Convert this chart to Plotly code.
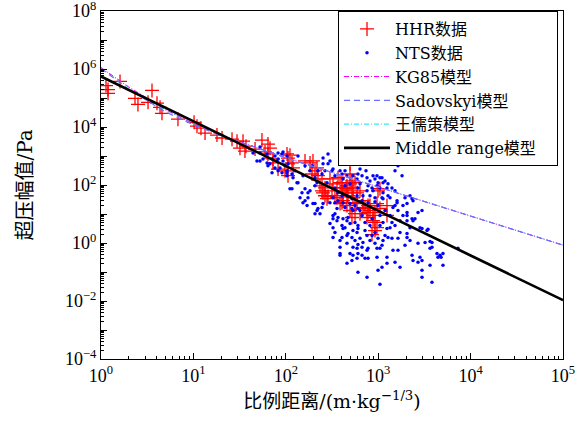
import plotly.graph_objects as go

# ---------------- data (log10 values) ----------------
hhr_log_z = [0.054, 0.076, 0.076, 0.206, 0.552, 0.368, 0.400, 0.509, 0.606, 0.639,
             0.660, 0.833, 1.007, 1.039, 1.082, 1.126, 1.255, 1.310, 1.418, 1.472,
             1.537, 1.504, 1.558, 1.569, 1.667, 1.742, 1.807, 1.829, 1.775, 1.807,
             1.861, 1.861, 1.916, 1.991, 2.013, 2.024, 2.024, 2.024, 2.045, 2.067,
             2.078,
             2.208, 2.262, 2.294, 2.338, 2.284, 2.316, 2.348, 2.392, 2.370, 2.424,
             2.392, 2.403, 2.424, 2.446, 2.457, 2.478, 2.511, 2.500, 2.532, 2.554,
             2.565, 2.587, 2.608, 2.608, 2.619, 2.662, 2.641, 2.662, 2.673, 2.695,
             2.695, 2.716, 2.695, 2.749, 2.727, 2.716, 2.727, 2.749, 2.619, 2.587,
             2.554, 2.608, 2.662, 2.695, 2.749, 2.716, 2.771, 2.771, 2.803,
             2.835, 2.835, 2.857, 2.890, 2.890, 2.911, 2.944, 2.965, 2.879, 2.944,
             2.965, 2.987, 2.965, 2.933, 2.998, 3.019, 2.987, 3.019, 3.095, 3.095,
             2.911, 2.803]
hhr_log_p = [5.43, 5.29, 5.16, 5.57, 5.26, 4.99, 4.78, 4.85, 4.82, 4.68,
             4.47, 4.27, 4.16, 4.03, 3.96, 3.79, 3.72, 3.62, 3.58, 3.51,
             3.51, 3.27, 3.17, 3.34, 3.24, 3.55, 3.41, 3.27, 3.14, 3.07,
             2.90, 2.76, 2.55, 2.49, 3.07, 2.93, 2.73, 2.32, 3.03, 2.76,
             2.59,
             2.83, 2.76, 2.83, 2.59, 2.38, 2.49, 2.32, 2.21, 1.97, 1.90,
             1.80, 1.73, 1.63, 1.53, 1.60, 2.21, 2.04, 1.80, 1.63, 1.90,
             2.25, 2.08, 1.90, 2.08, 1.73, 1.97, 1.80, 1.87, 1.63, 2.73,
             2.38, 2.14, 2.04, 2.08, 1.90, 1.73, 1.56, 1.36, 1.46, 1.36,
             1.56, 1.39, 1.29, 1.12, 1.01, 0.88, 1.39, 1.73, 1.80,
             1.46, 1.19, 1.22, 1.29, 1.05, 1.12, 0.95, 1.05, 0.88, 0.77,
             0.71, 0.53, 0.43, 0.29, 1.80, 1.87, 1.36, 1.19, 1.29, 0.95,
             1.29, 1.01]

nts_log_z = [
    1.645, 1.721, 1.688, 1.721, 1.753, 1.797, 1.807, 1.883, 1.916, 1.959,
    1.883, 1.916, 1.959, 1.991, 2.024, 1.970, 1.851, 2.013, 1.721, 1.829,
    1.937, 1.916, 1.970, 2.013, 1.797, 1.851, 1.905, 2.013, 2.045,
    2.132, 2.013, 2.067, 2.100, 2.121, 2.186, 2.208, 2.284, 2.262, 2.403,
    2.457, 2.500, 2.511, 2.532, 2.587, 2.608, 2.641, 2.619, 2.662, 2.695,
    2.727, 2.771, 2.781, 2.532, 2.446, 2.316, 2.316, 2.208, 2.262, 2.067,
    2.154, 2.240, 2.565, 2.608, 2.511, 2.662, 2.716, 2.771, 2.348, 2.424,
    2.392, 2.457, 2.478, 2.403, 2.078, 2.132, 2.175, 2.240, 2.338,
    2.208, 2.230, 2.186, 2.316, 2.348, 2.392, 2.403, 2.316, 2.532, 2.565,
    2.619, 2.641, 2.695, 2.716, 2.749, 2.727, 2.781, 2.532, 2.565, 2.619,
    2.662, 2.673, 2.478, 2.511, 2.554, 2.608, 2.641, 2.695, 2.749, 2.781,
    2.727, 2.771, 2.619, 2.662, 2.673, 2.532, 2.511, 2.608, 2.716, 2.749,
    2.727, 2.771, 2.587, 2.695, 2.727, 2.716, 2.771, 2.781, 2.554, 2.511,
    2.511, 2.587, 2.662, 2.587, 2.662, 2.587, 2.370, 2.338, 2.294, 2.478,
    2.781, 2.825, 2.879, 2.911, 2.944, 2.965, 2.998, 3.041, 3.074, 3.106,
    3.149, 3.182, 3.095, 2.933, 2.879, 2.835, 2.965, 3.041, 3.106, 3.258,
    3.290, 3.344, 2.803, 2.890, 3.052, 2.987, 2.944, 3.019, 3.052, 2.987,
    3.019, 3.128, 3.204, 3.160, 3.268, 3.312, 3.377, 3.312, 3.452, 3.528,
    3.344, 3.474, 3.312, 3.377, 2.803, 2.868, 3.214, 3.290, 3.182,
    3.214, 3.312, 3.366, 3.398, 3.431, 3.474, 3.236, 3.312, 3.312, 3.431,
    3.507, 3.582, 3.582, 3.636, 3.669, 3.701, 3.561, 3.377, 3.452, 3.431,
    3.474, 3.474, 3.582, 3.214, 3.182, 3.095, 3.041, 2.998, 2.879, 2.987,
    2.857, 2.825, 2.781, 2.987, 3.019, 3.041, 3.052, 3.106, 3.149, 3.214,
    2.781, 2.825, 2.890, 2.803, 2.879, 2.933, 2.965, 2.857, 2.781, 3.095,
    3.149, 3.128, 3.182, 3.204, 3.052, 2.965, 2.890, 3.366, 2.803, 2.825,
    2.857, 2.911, 3.019, 3.052, 3.074, 2.998, 2.911, 2.835, 2.965, 2.879,
    2.890, 3.095, 3.236, 3.366, 3.474, 3.647, 3.701,
    3.539, 3.561, 3.561, 3.680, 3.864, 3.019,
    2.641, 2.825, 2.911, 2.998, 3.074, 2.933, 3.019, 3.128, 3.182, 3.236,
    3.268, 3.160, 3.290, 3.344]
nts_log_p = [
    3.10, 3.10, 2.83, 2.83, 2.90, 2.76, 2.66, 3.00, 2.90, 3.07,
    2.59, 2.49, 2.42, 2.66, 2.73, 2.83, 2.42, 2.32, 3.31, 2.73,
    2.59, 3.10, 3.14, 3.00, 3.07, 2.90, 2.83, 2.49, 1.87,
    3.00, 2.42, 2.38, 2.49, 2.08, 2.32, 2.66, 2.66, 2.49, 2.93,
    2.73, 2.49, 2.55, 2.32, 2.49, 2.38, 2.49, 2.21, 2.32, 2.04,
    2.32, 2.21, 1.90, 1.90, 2.08, 2.25, 1.97, 1.87, 1.80, 1.87,
    1.56, 1.56, 1.73, 1.63, 1.56, 1.63, 1.53, 1.63, 2.49, 2.49,
    2.38, 3.07, 2.83, 2.73, 2.25, 2.08, 1.73, 1.73, 2.08,
    1.46, 1.29, 1.39, 1.36, 1.19, 1.22, 1.36, 1.01, 1.39, 1.46,
    1.39, 1.22, 1.36, 1.19, 1.29, 1.12, 1.19, 1.01, 0.88, 0.84,
    0.77, 0.88, 0.67, 0.84, 0.77, 0.60, 0.53, 0.67, 0.71, 0.60,
    0.43, 0.36, 0.50, 0.26, 0.33, 0.36, 0.19, 0.19, 0.19, 0.09,
    -0.15, -0.18, -0.36, -0.36, -0.42, -0.60, -0.53, -1.01, 1.19, 0.95,
    0.53, 0.09, -0.01, -0.15, -0.70, -0.42, 1.01, 1.12, 1.36, 1.39,
    2.38, 2.32, 2.25, 2.14, 2.32, 2.21, 2.08, 2.25, 2.14, 2.04,
    1.90, 1.80, 1.90, 1.90, 1.80, 1.63, 1.56, 1.56, 1.63, 2.32,
    1.56, 1.63, 2.04, 1.97, 1.73, 1.97, 1.80, 1.90, 2.08, 2.32,
    2.25, 1.56, 1.39, 1.22, 0.95, 1.05, 0.77, 0.77, 0.53, 0.43,
    0.53, 1.12, 1.36, 1.46, 2.55, 2.49, 2.66, 2.73, 2.49,
    1.12, 0.95, 0.84, 0.84, 1.05, 0.50, 0.36, 0.33, 0.19, -0.01,
    0.02, 0.02, -0.15, -0.36, -0.42, -0.77, -0.77, -0.60, -0.49, -0.66,
    -0.94, -1.18, -1.35, -0.25, -0.66, -0.70, -0.84, -0.94, -1.18, -0.49,
    -0.53, -0.42, -0.36, -0.18, -0.18, -0.08, 0.09, 0.19, 0.16, 0.16,
    -0.05, -0.15, -0.18, 0.16, 0.26, 0.26, 0.36, 0.43, 0.50, 0.50,
    0.71, 0.53, 1.29, 1.46, 1.53, 1.42, 1.39, 1.53, 1.12, 0.95,
    0.71, 0.60, 0.95, 0.71, 0.26, 0.16, 0.09, 0.02, -0.01, -0.25,
    -0.53, -0.49, -0.84, -0.42, -0.60, -0.49, -0.36,
    0.47, 0.05, -0.18, -0.49, -0.18, -1.42,
    1.97, 1.46, 1.63, 1.29, 1.12, 0.84, 0.60, 0.95, 0.60, 0.77,
    1.29, -0.25, -0.08, 0.09]

model_z = [1, 2, 5, 10, 20, 50, 100, 200, 500, 1000, 2000, 5000, 1e4, 2e4, 5e4, 1e5]
kg85_p = [1.10e6, 2.40e5, 4.0e4, 1.30e4, 5.2e3, 1.85e3, 880, 430, 170, 85, 42.5, 17, 8.5, 4.25, 1.7, 0.85]
sadovskyi_p = [1.05e6, 1.97e5, 3.3e4, 1.18e4, 4.96e3, 1.79e3, 868, 427, 169, 84.3, 42.1, 16.8, 8.4, 4.2, 1.68, 0.84]
wang_p = [1.15e6, 2.30e5, 3.8e4, 1.25e4, 5.1e3, 1.82e3, 875, 428, 170, 84.5, 42.2, 16.9, 8.45, 4.22, 1.69, 0.845]

middle_z = [1, 10, 100, 1000, 1e4, 1e5]
middle_p = [5.5e5, 1.6e4, 4.6e2, 13, 0.37, 0.0107]

series_names = ["HHR数据", "NTS数据", "KG85模型", "Sadovskyi模型", "王儒策模型",
                "Middle range模型\u2002\u2002"]

x_tick_vals = [1, 10, 100, 1000, 1e4, 1e5]
x_tick_text = ["10<sup>0</sup>", "10<sup>1</sup>", "10<sup>2</sup>", "10<sup>3</sup>",
               "10<sup>4</sup>", "10<sup>5</sup>"]
y_tick_vals = [1e-4, 1e-3, 1e-2, 1e-1, 1, 10, 100, 1e3, 1e4, 1e5, 1e6, 1e7, 1e8]
y_tick_text = ["10<sup>−4</sup>", "", "10<sup>−2</sup>", "", "10<sup>0</sup>", "",
               "10<sup>2</sup>", "", "10<sup>4</sup>", "", "10<sup>6</sup>", "",
               "10<sup>8</sup>"]
minor_mult = [2, 3, 4, 5, 6, 7, 8, 9]
x_decades = [1, 10, 100, 1000, 1e4]
y_decades = [1e-4, 1e-3, 1e-2, 1e-1, 1, 10, 100, 1e3, 1e4, 1e5, 1e6, 1e7]
x_minor = [m * d for d in x_decades for m in minor_mult]
y_minor = [m * d for d in y_decades for m in minor_mult]

# ---------------- figure ----------------
hhr_z = [10 ** v for v in hhr_log_z]
hhr_p = [10 ** v for v in hhr_log_p]
nts_z = [10 ** v for v in nts_log_z]
nts_p = [10 ** v for v in nts_log_p]

tick_font = "Liberation Serif, DejaVu Serif, serif"
text_font = "DejaVu Serif, Noto Sans CJK SC, serif"

fig = go.Figure()
fig.add_trace(go.Scatter(x=hhr_z, y=hhr_p, mode="markers", name=series_names[0], legendrank=1,
                         marker=dict(symbol="cross-thin", size=10, color="red",
                                     line=dict(color="red", width=1.3))))
fig.add_trace(go.Scatter(x=nts_z, y=nts_p, mode="markers", name=series_names[1], legendrank=2,
                         marker=dict(symbol="circle", size=3.5, color="blue")))
fig.add_trace(go.Scatter(x=model_z, y=wang_p, mode="lines", name=series_names[4], legendrank=5,
                         line=dict(color="#00e5ff", width=1, dash="5px,2px,1px,2px")))
fig.add_trace(go.Scatter(x=model_z, y=kg85_p, mode="lines", name=series_names[2], legendrank=3,
                         line=dict(color="#ff00ff", width=1, dash="5px,2px,1px,2px")))
fig.add_trace(go.Scatter(x=model_z, y=sadovskyi_p, mode="lines", name=series_names[3], legendrank=4,
                         line=dict(color="#6f6fff", width=1.2, dash="6px,4px")))
fig.add_trace(go.Scatter(x=middle_z, y=middle_p, mode="lines", name=series_names[5], legendrank=6,
                         line=dict(color="black", width=2.6)))
# helper trace that carries the minor-tick axes
fig.add_trace(go.Scatter(x=[10], y=[1], xaxis="x2", yaxis="y2", mode="markers",
                         marker=dict(opacity=0), showlegend=False, hoverinfo="skip"))

axis_common = dict(
    type="log", showgrid=False, zeroline=False, automargin=False,
    showline=True, linecolor="black", linewidth=1, mirror=True,
    ticks="inside", ticklen=6, tickcolor="black", tickwidth=1,
    ticklabeloverflow="allow",
    tickfont=dict(family=tick_font, size=18, color="black"),
)

fig.update_layout(
    xaxis=dict(**axis_common, range=[0, 5], tickmode="array",
               tickvals=x_tick_vals, ticktext=x_tick_text,
               title=dict(text="比例距离/(m·kg<sup>−1/3</sup>)",
                          font=dict(family=text_font, size=19, color="black"),
                          standoff=10)),
    yaxis=dict(**axis_common, range=[-4, 8], tickmode="array",
               tickvals=y_tick_vals, ticktext=y_tick_text,
               title=dict(text="超压幅值/Pa",
                          font=dict(family=text_font, size=20, color="black"),
                          standoff=26)),
    xaxis2=dict(type="log", range=[0, 5], overlaying="x", side="bottom",
                tickmode="array", tickvals=x_minor, showticklabels=False,
                ticks="inside", ticklen=3, tickcolor="black", tickwidth=1,
                showgrid=False, zeroline=False, showline=False, automargin=False),
    yaxis2=dict(type="log", range=[-4, 8], overlaying="y", side="left",
                tickmode="array", tickvals=y_minor, showticklabels=False,
                ticks="inside", ticklen=3, tickcolor="black", tickwidth=1,
                showgrid=False, zeroline=False, showline=False, automargin=False),
    width=586, height=427,
    margin=dict(l=101, r=23, t=11, b=68),
    paper_bgcolor="white", plot_bgcolor="white",
    showlegend=True,
    legend=dict(x=0.513, y=1, xanchor="left", yanchor="top",
                bgcolor="white", bordercolor="black", borderwidth=1,
                font=dict(family=text_font, size=16, color="black"),
                tracegroupgap=0, itemwidth=46),
)

fig.write_html(
    "out.html",
    config={"displayModeBar": False},
    post_script="document.body.style.margin='0';document.body.style.padding='0';"
                "document.documentElement.style.overflow='hidden';",
)
